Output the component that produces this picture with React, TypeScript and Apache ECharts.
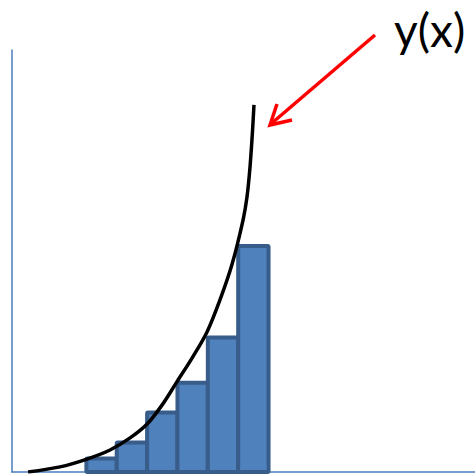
import React, { useEffect, useRef } from "react";
import * as echarts from "echarts";

// Rectangles: left edge, right edge, height
const barLeft = [2.45, 3.45, 4.45, 5.45, 6.45, 7.45];
const barRight = [3.45, 4.45, 5.45, 6.45, 7.45, 8.45];
const barHeight = [0.45, 0.98, 1.97, 2.96, 4.46, 7.5];

// Curve y(x)
const curveX = [0.53, 1.58, 2.47, 3.23, 3.89, 4.45, 4.97, 5.43, 5.93, 6.42, 6.85, 7.25, 7.61, 7.74, 7.84, 7.92, 7.97];
const curveY = [0, 0.17, 0.43, 0.73, 1.13, 1.59, 2.26, 2.99, 3.78, 4.64, 5.71, 6.9, 8.36, 9.12, 10.12, 11.28, 12.18];

const curveLabel = "y(x)";

export default function App() {
  const ref = useRef<HTMLDivElement>(null);
  useEffect(() => {
    if (!ref.current) return;
    const chart = echarts.init(ref.current, undefined, { renderer: "svg" });
    const axisCommon = {
      type: "value" as const,
      axisLine: { show: true, onZero: false, lineStyle: { color: "#4a7ebb", width: 1.5 } },
      axisTick: { show: false },
      axisLabel: { show: false },
      splitLine: { show: false },
    };
    chart.setOption({
      animation: false,
      backgroundColor: "#ffffff",
      grid: { left: 12, top: 50, width: 463, height: 422 },
      xAxis: { ...axisCommon, min: 0, max: 15.25 },
      yAxis: { ...axisCommon, min: 0, max: 14 },
      series: [
        {
          type: "custom",
          data: barLeft.map((l, i) => [l, barRight[i], barHeight[i]]),
          renderItem: (params: any, api: any) => {
            const p0 = api.coord([api.value(0), api.value(2)]);
            const p1 = api.coord([api.value(1), 0]);
            return {
              type: "rect",
              shape: { x: p0[0], y: p0[1], width: p1[0] - p0[0], height: p1[1] - p0[1], r: 1 },
              style: { fill: "#4f81bd", stroke: "#385d8a", lineWidth: 4 },
            };
          },
          z: 2,
        },
        {
          type: "line",
          data: curveX.map((x, i) => [x, curveY[i]]),
          smooth: 0.3,
          symbol: "none",
          lineStyle: { color: "#000000", width: 3.5 },
          z: 3,
        },
      ],
      graphic: [
        {
          type: "line",
          shape: { x1: 375, y1: 35, x2: 272, y2: 123 },
          style: { stroke: "#ff0000", lineWidth: 3.5 },
        },
        {
          type: "polyline",
          shape: { points: [[277, 104], [270, 125], [292, 120]] },
          style: { stroke: "#ff0000", lineWidth: 3.5, fill: null },
        },
        {
          type: "text",
          left: 394,
          top: 6,
          style: { text: curveLabel, font: "46px Lato", fill: "#000000" },
        },
      ],
    });
    return () => chart.dispose();
  }, []);
  return <div ref={ref} style={{ position: "absolute", left: 0, top: 0, width: 475, height: 475 }} />;
}
